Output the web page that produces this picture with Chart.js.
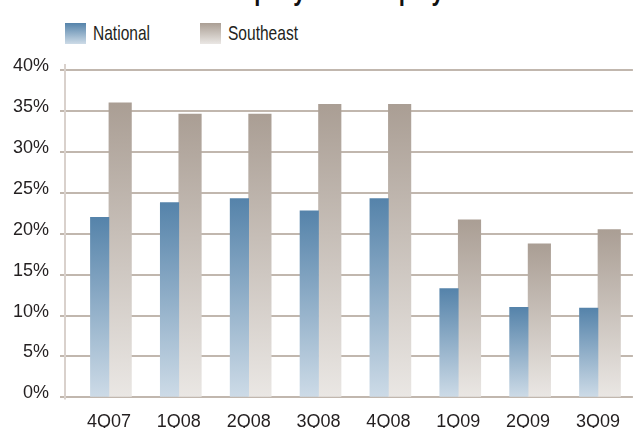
<!DOCTYPE html>
<html>
<head>
<meta charset="utf-8">
<script src="https://cdn.jsdelivr.net/npm/chart.js@4.4.0/dist/chart.umd.min.js"></script>
<style>
  html, body { margin: 0; padding: 0; background: #fff; overflow: hidden; width: 634px; height: 428px; }
  #wrap { position: relative; width: 634px; height: 428px; overflow: hidden; }
  #title { position: absolute; left: 40px; top: -25px; line-height: 28px; white-space: nowrap;
           font: bold 28px "Liberation Sans", Arial, sans-serif; color: #111;
           transform: scaleX(0.78); transform-origin: 0 0; }
  #legend { position: absolute; left: 65px; top: 21px; display: flex; align-items: center;
            font: 21px "Liberation Sans", Arial, sans-serif; color: #231f20; }
  .item { display: flex; align-items: center; }
  .item:first-child { width: 135px; }
  .sw { width: 21px; height: 21px; margin-right: 7px; flex: none; }
  .lbl { display: inline-block; transform: scaleX(0.74); transform-origin: 0 50%; white-space: nowrap; }
  canvas { position: absolute; left: 0; top: 0; }
</style>
</head>
<body>
<div id="wrap">
  <div id="title">Total Return on Company Stock Equity</div>
  <div id="legend"></div>
  <canvas id="c" width="634" height="447"></canvas>
</div>
<script>
const categories = ['4Q07', '1Q08', '2Q08', '3Q08', '4Q08', '1Q09', '2Q09', '3Q09'];
const seriesNames = ['National', 'Southeast'];
const nationalValues = [22.0, 23.8, 24.3, 22.8, 24.3, 13.3, 11.0, 10.9];
const southeastValues = [36.0, 34.6, 34.6, 35.8, 35.8, 21.7, 18.75, 20.5];
const yTickValues = [0, 5, 10, 15, 20, 25, 30, 35, 40];

const FONT = '"Liberation Sans", Arial, sans-serif';
const blueTop = '#5583aa', blueBottom = '#cddbe7';
const greyTop = '#aa9e94', greyBottom = '#eae7e4';

// HTML legend built from the series names
const legendColors = [[blueTop, blueBottom], [greyTop, greyBottom]];
const legendEl = document.getElementById('legend');
seriesNames.forEach((name, i) => {
  const item = document.createElement('div');
  item.className = 'item';
  const sw = document.createElement('div');
  sw.className = 'sw';
  sw.style.background = 'linear-gradient(' + legendColors[i][0] + ',' + legendColors[i][1] + ')';
  const label = document.createElement('span');
  label.className = 'lbl';
  label.textContent = name;
  item.appendChild(sw);
  item.appendChild(label);
  legendEl.appendChild(item);
});

function barGradient(top, bottom) {
  return (ctx) => {
    const chart = ctx.chart;
    const y = chart.scales && chart.scales.y;
    if (!chart.chartArea || !y || ctx.type !== 'data') return top;
    const yTop = y.getPixelForValue(ctx.raw);
    const yBase = y.getPixelForValue(0);
    const g = chart.ctx.createLinearGradient(0, yTop, 0, yBase);
    g.addColorStop(0, top);
    g.addColorStop(1, bottom);
    return g;
  };
}

const axisLine = {
  id: 'axisLine',
  beforeDatasetsDraw(chart) {
    const { ctx, chartArea, scales } = chart;
    const x = chartArea.left - 9;
    ctx.save();
    ctx.strokeStyle = '#d9d1cc';
    ctx.lineWidth = 2;
    ctx.beginPath();
    ctx.moveTo(x, scales.y.getPixelForValue(40) - 6);
    ctx.lineTo(x, chartArea.bottom + 2);
    ctx.stroke();
    ctx.restore();
  }
};

new Chart(document.getElementById('c'), {
  type: 'bar',
  data: {
    labels: categories,
    datasets: [
      { label: seriesNames[0], data: nationalValues, backgroundColor: barGradient(blueTop, blueBottom),
        borderWidth: 0, barThickness: 18.5 },
      { label: seriesNames[1], data: southeastValues, backgroundColor: barGradient(greyTop, greyBottom),
        borderWidth: 0, barThickness: 22.5 }
    ]
  },
  options: {
    responsive: false,
    animation: false,
    layout: { padding: { top: 70, left: 0, right: 0, bottom: 0 } },
    plugins: { legend: { display: false }, tooltip: { enabled: false }, title: { display: false } },
    scales: {
      x: {
        grid: { display: false, drawTicks: false },
        border: { display: false },
        ticks: { color: '#231f20', font: { family: FONT, size: 18 }, padding: 14, maxRotation: 0 }
      },
      y: {
        min: 0, max: 40,
        afterBuildTicks: (scale) => { scale.ticks = yTickValues.map(v => ({ value: v })); },
        afterFit: (scale) => { scale.width = 74; },
        grid: { color: '#c1b7ae', lineWidth: 2, drawTicks: true, tickLength: 14 },
        border: { display: false },
        ticks: { color: '#231f20', font: { family: FONT, size: 18 }, padding: 11, labelOffset: -4,
                 callback: (v) => v + '%' }
      }
    }
  },
  plugins: [axisLine]
});
</script>
</body>
</html>
